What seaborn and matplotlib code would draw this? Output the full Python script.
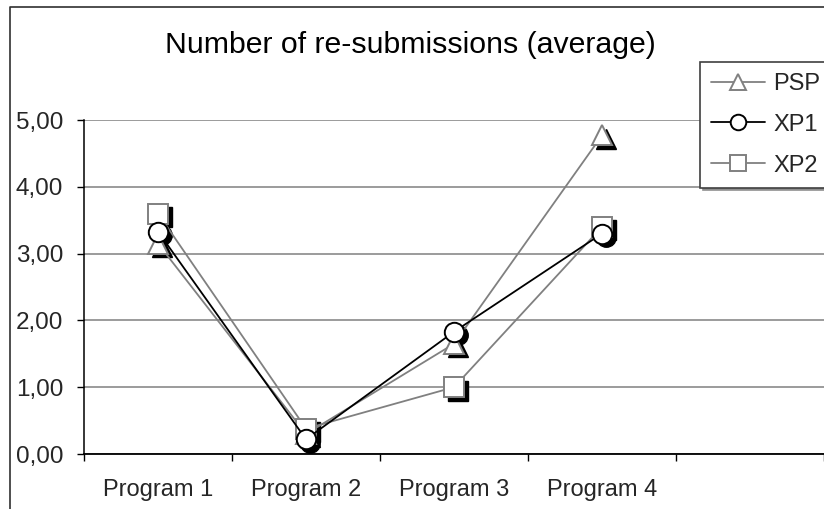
import matplotlib
matplotlib.use("Agg")
import matplotlib.pyplot as plt
from matplotlib.lines import Line2D
from matplotlib.transforms import ScaledTranslation
from matplotlib.ticker import FuncFormatter, FixedLocator
import seaborn as sns
import pandas as pd

# Average number of re-submissions per program
programs = ["Program 1", "Program 2", "Program 3", "Program 4"]
psp = [3.15, 0.30, 1.65, 4.77]
xp1 = [3.33, 0.22, 1.83, 3.30]
xp2 = [3.60, 0.38, 1.00, 3.40]
y_ticks = [0, 1, 2, 3, 4, 5]

GREY = "#808080"

sns.set_theme(style="white")
plt.rcParams["font.family"] = ["Liberation Sans", "DejaVu Sans"]

fig = plt.figure(figsize=(8.24, 5.09), dpi=100)
ax = fig.add_axes([84 / 824, 1 - 454 / 509, 1 - 84 / 824, (454 - 120) / 509])

series = [
    ("PSP", psp, GREY, "^"),
    ("XP2", xp2, GREY, "s"),
    ("XP1", xp1, "black", "o"),
]

shadow = ax.transData + ScaledTranslation(0.035, -0.035, fig.dpi_scale_trans)

for name, vals, col, mk in series:
    df = pd.DataFrame({"program": programs, "value": vals})
    # drop shadow under the markers
    ax.plot(df["program"], df["value"], linestyle="none", marker=mk,
            markersize=14, color="black", transform=shadow, zorder=2)
    sns.lineplot(data=df, x="program", y="value", ax=ax, sort=False,
                 color=col, linewidth=1.3, marker=mk, markersize=14,
                 markerfacecolor="white", markeredgecolor=col,
                 markeredgewidth=1.4, zorder=3)

ax.set_xlim(-0.5, 4.5)
ax.set_ylim(0, 5)
ax.set_xlabel("")
ax.set_ylabel("")

# y axis: gridlines and comma decimals
ax.set_yticks(y_ticks)
ax.yaxis.set_major_formatter(FuncFormatter(lambda v, p: f"{v:.2f}".replace(".", ",")))
ax.yaxis.grid(True, color=GREY, linewidth=1.1)
ax.xaxis.grid(False)
ax.tick_params(axis="y", which="major", direction="out", length=5, width=1,
               color="black", labelsize=17.5, pad=10, left=True)

# x axis: ticks between categories, labels centred on them
ax.xaxis.set_major_locator(FixedLocator([-0.5, 0.5, 1.5, 2.5, 3.5, 4.5]))
ax.xaxis.set_major_formatter(FuncFormatter(lambda v, p: ""))
ax.xaxis.set_minor_locator(FixedLocator(list(range(len(programs)))))
ax.xaxis.set_minor_formatter(FuncFormatter(lambda v, p: programs[int(round(v))]))
ax.tick_params(axis="x", which="major", direction="out", length=5, width=1,
               color="black", bottom=True)
ax.tick_params(axis="x", which="minor", length=0, labelsize=17, pad=18, bottom=True)

for side in ["top", "right"]:
    ax.spines[side].set_visible(False)
ax.spines["left"].set_color("black")
ax.spines["bottom"].set_color("black")
ax.spines["left"].set_linewidth(1.1)
ax.spines["bottom"].set_linewidth(1.3)

# chart title
fig.text(410 / 824, 1 - 45 / 509, "Number of re-submissions (average)",
         ha="center", va="center", fontsize=21.8, color="black")

# chart area border
fig.add_artist(Line2D([10 / 824, 10 / 824, 1.0], [0, 1 - 7 / 509, 1 - 7 / 509],
                      transform=fig.transFigure, color="#303030", linewidth=1.2))

# legend
handles = [
    Line2D([], [], color=GREY, linewidth=1.3, marker="^", markersize=14,
           markerfacecolor="white", markeredgecolor=GREY, markeredgewidth=1.4),
    Line2D([], [], color="black", linewidth=1.3, marker="o", markersize=14,
           markerfacecolor="white", markeredgecolor="black", markeredgewidth=1.4),
    Line2D([], [], color=GREY, linewidth=1.3, marker="s", markersize=14,
           markerfacecolor="white", markeredgecolor=GREY, markeredgewidth=1.4),
]
leg = fig.legend(handles, ["PSP", "XP1", "XP2"], loc="upper left",
                 bbox_to_anchor=(700 / 824, 1 - 62 / 509), borderaxespad=0,
                 fontsize=17, frameon=True, fancybox=False, framealpha=1,
                 edgecolor="#404040", markerscale=0.8, handlelength=2.3,
                 handletextpad=0.35, labelspacing=0.8, borderpad=0.46,
                 shadow={"color": "#909090", "alpha": 1})
leg.get_frame().set_linewidth(1.2)

fig.savefig("out.png", dpi=100, facecolor="white")
